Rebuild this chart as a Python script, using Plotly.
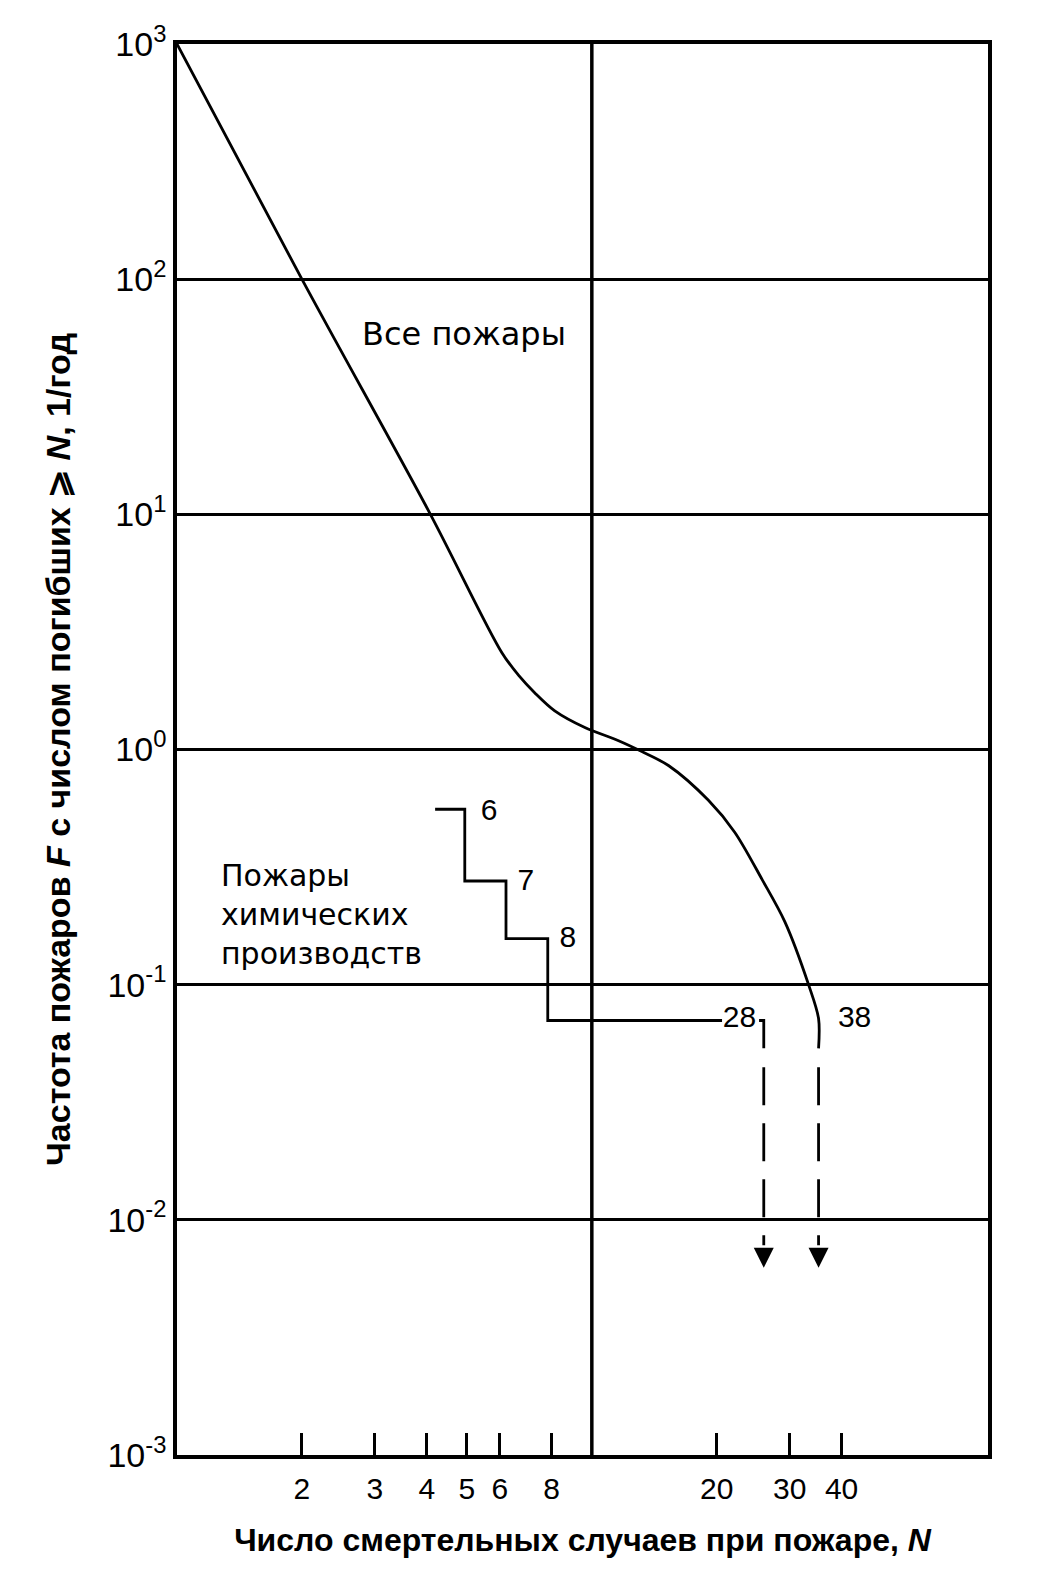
import numpy as np
import plotly.graph_objects as go

# Все пожары: частота F (1/год) от числа погибших N
all_n = [1.0, 2.0, 4.07, 6.07, 6.67, 7.29, 8.14, 9.62, 11.6, 13.2, 15.3, 19.1, 22.1, 25.7, 29.2, 33.3, 35.2, 35.2]
all_f = [1000, 100, 10.1, 2.58, 2.06, 1.74, 1.46, 1.24, 1.09, 0.98, 0.855, 0.608, 0.445, 0.281, 0.185, 0.1, 0.0718, 0.0536]

# Пожары химических производств (ступенчатая кривая)
chem_n = [4.19, 4.94, 6.21, 7.83, 20.6]
chem_f = [0.557, 0.276, 0.157, 0.0704, 0.0704]
# хвост после метки "28"
tail_n = [25.3, 25.97, 25.97]
tail_f = [0.0704, 0.0704, 0.0536]

# подписи у ступенек
step_lbl = ["6", "7", "8", "28", "38"]
step_lbl_n = [5.65, 6.93, 8.75, 22.7, 43.0]
step_lbl_f = [0.541, 0.273, 0.155, 0.0711, 0.0711]

# пунктирные стрелки вниз (значения < 0.05)
arrow_n = [25.97, 35.2]
arrow_top = 0.0445
arrow_bot = 0.0078
arrow_tip = 0.00626

x_ticks = [2, 3, 4, 5, 6, 8, 20, 30, 40]
y_ticks = [1e-3, 1e-2, 1e-1, 1, 10, 100, 1000]
y_ticktext = ["10<sup>-3</sup>", "10<sup>-2</sup>", "10<sup>-1</sup>", "10<sup>0</sup>",
              "10<sup>1</sup>", "10<sup>2</sup>", "10<sup>3</sup>"]

fig = go.Figure()

fig.add_trace(go.Scatter(x=all_n, y=all_f, mode="lines",
                         line=dict(color="black", width=2.8, shape="spline", smoothing=0.9)))
fig.add_trace(go.Scatter(x=chem_n, y=chem_f, mode="lines",
                         line=dict(color="black", width=2.8, shape="hv")))
fig.add_trace(go.Scatter(x=tail_n, y=tail_f, mode="lines",
                         line=dict(color="black", width=2.8)))

for n in arrow_n:
    fig.add_trace(go.Scatter(x=[n, n], y=[arrow_top, arrow_bot], mode="lines",
                             line=dict(color="black", width=2.8, dash="38px,18px")))
fig.add_trace(go.Scatter(x=arrow_n, y=[arrow_tip] * len(arrow_n), mode="markers",
                         marker=dict(symbol="arrow-down", size=20, color="black",
                                     line=dict(width=0))))

fig.add_trace(go.Scatter(x=step_lbl_n, y=step_lbl_f, mode="text", text=step_lbl,
                         textfont=dict(family="Liberation Sans, Arial, sans-serif", size=30, color="black")))

# вертикальная линия N = 10
fig.add_shape(type="line", x0=10, x1=10, y0=0, y1=1, yref="y domain",
              line=dict(color="black", width=3.5))

fig.add_annotation(x=np.log10(4.92), y=np.log10(58.5), text="Все пожары", showarrow=False,
                   font=dict(family="DejaVu Sans, sans-serif", size=32, color="black"))
fig.add_annotation(x=np.log10(1.262), y=np.log10(0.198), text="Пожары<br>химических<br>производств",
                   showarrow=False, xanchor="left", align="left",
                   font=dict(family="DejaVu Sans, sans-serif", size=30, color="black"))

fig.update_layout(
    width=1039,
    height=1569,
    margin=dict(l=169, r=59, t=31, b=122),
    plot_bgcolor="white",
    paper_bgcolor="white",
    showlegend=False,
    font=dict(family="Liberation Sans, Arial, sans-serif", size=30, color="black"),
    xaxis=dict(
        type="log",
        range=[0, 1.955],
        tickvals=x_ticks,
        ticktext=[str(t) for t in x_ticks],
        ticks="inside",
        ticklen=22,
        tickwidth=2.8,
        tickcolor="black",
        ticklabelstandoff=4,
        showgrid=False,
        zeroline=False,
        showline=True,
        mirror=True,
        linewidth=3.5,
        linecolor="black",
        title=dict(text="Число смертельных случаев при пожаре, <i>N</i>",
                   font=dict(size=32, weight="bold"), standoff=26),
    ),
    yaxis=dict(
        type="log",
        range=[-3, 3],
        tickvals=y_ticks,
        ticktext=y_ticktext,
        ticks="",
        tickfont=dict(size=34),
        showgrid=True,
        gridcolor="black",
        gridwidth=3,
        zeroline=False,
        showline=True,
        mirror=True,
        linewidth=3.5,
        linecolor="black",
        title=dict(text="Частота пожаров <i>F</i> с числом погибших ⩾ <i>N</i>, 1/год",
                   font=dict(size=34, weight="bold"), standoff=28),
    ),
)

fig.write_html("out.html")
